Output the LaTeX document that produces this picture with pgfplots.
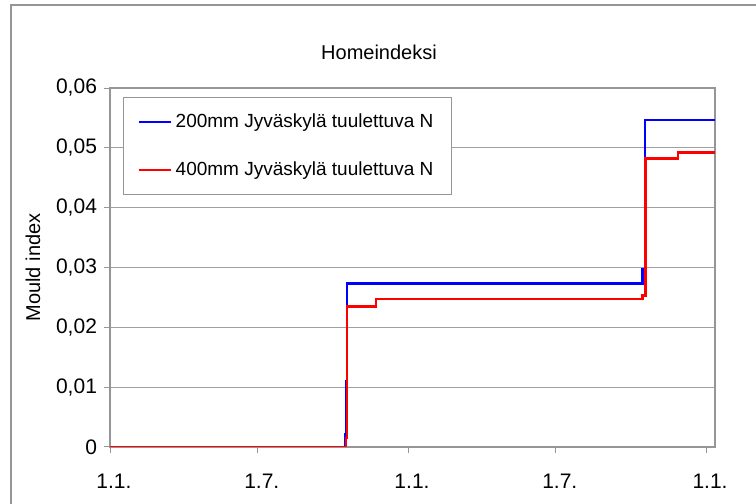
\documentclass[border=0pt]{standalone}
\usepackage{pgfplots}
\pgfplotsset{compat=1.18}
\usepackage{fontspec}
\setmainfont{Liberation Sans}

\definecolor{framegray}{RGB}{150,150,150}
\definecolor{gridgray}{RGB}{160,160,160}

\begin{document}
\begin{tikzpicture}
    \useasboundingbox (0,0) rectangle (378pt,252pt);
    % chart area frame (runs off the right and bottom edges)
    \draw[framegray, line width=0.6pt] (5.5pt,-20pt) rectangle (420pt,249.5pt);
    \node[font=\fontsize{10}{12}\selectfont] at (189.5pt,226pt) {Homeindeksi};

    \begin{axis}[
        at={(55pt,28.5pt)}, anchor=south west,
        scale only axis,
        width=302.5pt, height=179.5pt,
        xmin=0, xmax=741,
        ymin=0, ymax=0.06,
        scaled y ticks=false,
        xtick={0,181,365,546,730},
        xticklabels={1.1.,1.7.,1.1.,1.7.,1.1.},
        ytick={0,0.01,0.02,0.03,0.04,0.05,0.06},
        yticklabels={0,{0,01},{0,02},{0,03},{0,04},{0,05},{0,06}},
        xtick pos=bottom, ytick pos=left,
        tick align=outside,
        major tick length=3pt,
        axis line style={framegray, line width=0.6pt},
        tick style={framegray, line width=0.5pt},
        ymajorgrids,
        grid style={gridgray, line width=0.6pt},
        tick label style={font=\fontsize{10.5}{12}\selectfont},
        xticklabel style={yshift=-7pt, xshift=2pt},
        ylabel={Mould index},
        ylabel style={font=\fontsize{10}{12}\selectfont, yshift=1pt},
        legend style={
            at={(rel axis cs:0.0215,0.975)}, anchor=north west,
            draw=framegray, line width=0.5pt,
            font=\fontsize{9.5}{11}\selectfont,
            inner xsep=7pt, inner ysep=6pt,
            row sep=11.5pt,
        },
        legend cell align=left,
        legend image code/.code={\draw[#1, line width=1.1pt] (2pt,0pt) -- (18pt,0pt);},
    ]

    \addplot[blue, line width=1.2pt] coordinates {
        (0,0) (288,0) (288,0.0022) (289,0.0022) (289,0.011)
        (290,0.011) (290,0.0273) (652,0.0273) (652,0.0297)
        (655,0.0297) (655,0.0547) (741,0.0547)
    };

    \addplot[red, line width=1.2pt] coordinates {
        (0,0) (289,0) (289,0.0015) (290,0.0015) (290,0.0235)
        (326,0.0235) (326,0.0247) (652,0.0247) (652,0.0253)
        (656,0.0253) (656,0.0482) (696,0.0482) (696,0.0492)
        (741,0.0492)
    };

    \legend{200mm Jyväskylä tuulettuva N, 400mm Jyväskylä tuulettuva N}
    \end{axis}
\end{tikzpicture}
\end{document}
